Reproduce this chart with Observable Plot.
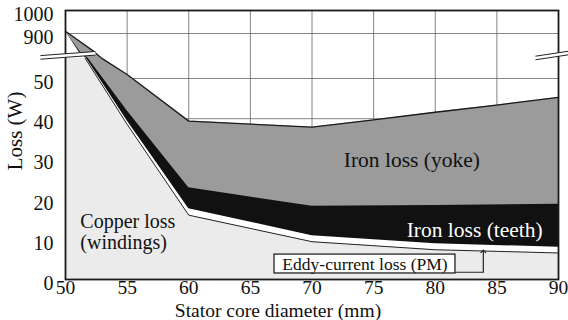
<!DOCTYPE html>
<html><head><meta charset="utf-8">
<script src="https://cdn.jsdelivr.net/npm/d3@7"></script>
<script src="https://cdn.jsdelivr.net/npm/@observablehq/plot@0.6"></script>
<style>body{margin:0;background:#fff}</style>
</head><body><div id="chart"></div>
<script>
// Boundary values (cumulative loss, W) at stator core diameters (mm)
const totalX  = [50, 52.35, 52.95, 55, 60, 70, 75, 80, 85, 90];
const totalY  = [910, 820, 55, 51, 39.4, 37.9, 39.7, 41.6, 43.4, 45.3];
const teethX  = [50, 51.2, 51.85, 55, 60, 70, 80, 90];
const teethY  = [910, 820, 55, 42, 22.8, 18.2, 18.4, 18.7];
const eddyX   = [50, 51.1, 51.7, 55, 60, 70, 80, 90];
const eddyY   = [910, 820, 55, 39.5, 17.6, 10.9, 8.9, 8.0];
const copperX = [50, 51.6, 55, 60, 70, 80, 90];
const copperY = [55, 55, 38.6, 16.0, 9.4, 7.4, 6.6];

const xTicks = [50, 55, 60, 65, 70, 75, 80, 85, 90];
const xGrid  = [55, 60, 65, 70, 75, 80, 85];
const yTicks = [0, 10, 20, 30, 40, 50, 900, 1000];
const yBreak = [55, 820];   // axis break: lower segment top, upper segment bottom

const labels = [
  {x: 78.1, y: 29.6, text: "Iron loss (yoke)", fill: "#111"},
  {x: 83.2, y: 12.2, text: "Iron loss (teeth)", fill: "#fff"}
];
const copperLabel = [
  {x: 51.2, y: 14.5, text: "Copper loss"},
  {x: 51.2, y: 9.3, text: "(windings)"}
];
const eddyBox = [{x1: 66.96, x2: 81.64, y1: 1.5, y2: 6.2, xm: 74.3, ym: 3.85, text: "Eddy-current loss (PM)"}];
const eddyArrow = [{x: 81.64, y: 1.8}, {x: 83.9, y: 1.8}, {x: 83.9, y: 7.0}];
const breakMarks = [
  {x1: 47.97, y1: 173, x2: 52.43, y2: 655},
  {x1: 88.13, y1: 102, x2: 90.81, y2: 690}
];

const rows = (xs, ys) => xs.map((x, i) => ({x, y: ys[i]}));
const total = rows(totalX, totalY);
const teeth = rows(teethX, teethY);
const eddy = rows(eddyX, eddyY);
const copper = rows(copperX, copperY);

const font = "Liberation Serif, Times New Roman, serif";

const chart = Plot.plot({
  width: 568,
  height: 320,
  marginTop: 10, marginBottom: 41, marginLeft: 65, marginRight: 10,
  style: {fontFamily: font, fontSize: "20px", background: "#fff", color: "#111"},
  x: {type: "linear", domain: [50, 90], range: [65, 558]},
  y: {type: "linear", domain: [0, yBreak[0], yBreak[1], 1000], range: [279, 57.9, 51.4, 10]},
  marks: [
    Plot.gridY(yTicks, {stroke: "#666", strokeOpacity: 1, strokeWidth: 0.8}),
    Plot.gridX(xGrid, {stroke: "#666", strokeOpacity: 1, strokeWidth: 0.8}),
    Plot.areaY(total, {x: "x", y: "y", fill: "#9b9b9b"}),
    Plot.areaY(teeth, {x: "x", y: "y", fill: "#111"}),
    Plot.areaY(eddy, {x: "x", y: "y", fill: "#fff"}),
    Plot.areaY(copper, {x: "x", y: "y", fill: "#ebebeb"}),
    Plot.line(total, {x: "x", y: "y", stroke: "#1a1a1a", strokeWidth: 1.3}),
    Plot.line(copper.slice(1), {x: "x", y: "y", stroke: "#222", strokeWidth: 1}),
    Plot.frame({stroke: "#1a1a1a", strokeWidth: 1.8}),
    Plot.link(breakMarks, {x1: "x1", y1: "y1", x2: "x2", y2: "y2", stroke: "#fff", strokeWidth: 3.5}),
    Plot.link(breakMarks, {x1: "x1", y1: "y1", x2: "x2", y2: "y2", stroke: "#222", strokeWidth: 1, dy: -1.8}),
    Plot.link(breakMarks, {x1: "x1", y1: "y1", x2: "x2", y2: "y2", stroke: "#222", strokeWidth: 1, dy: 1.8}),
    Plot.text(labels, {x: "x", y: "y", text: "text", fill: "fill", fontSize: 21.5}),
    Plot.text(copperLabel, {x: "x", y: "y", text: "text", textAnchor: "start", fontSize: 20, fill: "#111"}),
    Plot.rect(eddyBox, {x1: "x1", x2: "x2", y1: "y1", y2: "y2", fill: "#fff", stroke: "#222", strokeWidth: 1.3}),
    Plot.text(eddyBox, {x: "xm", y: "ym", text: "text", fontSize: 17.5, fill: "#111"}),
    Plot.line(eddyArrow, {x: "x", y: "y", stroke: "#222", strokeWidth: 1.2, markerEnd: "arrow"}),
    Plot.axisY(yTicks, {tickSize: 0, tickPadding: 12, dy: 4, fontSize: 20, tickFormat: d => String(d), label: null}),
    Plot.axisX(xTicks, {tickSize: 0, tickPadding: 1, fontSize: 19.5, tickFormat: d => String(d), label: null}),
    Plot.text(["Loss (W)"], {frameAnchor: "left", textAnchor: "middle", lineAnchor: "middle", rotate: -90, dx: -50, dy: -14, fontSize: 21, fill: "#111"}),
    Plot.text(["Stator core diameter (mm)"], {frameAnchor: "bottom", textAnchor: "middle", lineAnchor: "middle", dx: -34, dy: 31, fontSize: 19.5, fill: "#111"})
  ]
});
document.getElementById("chart").append(chart);
</script>
</body></html>
